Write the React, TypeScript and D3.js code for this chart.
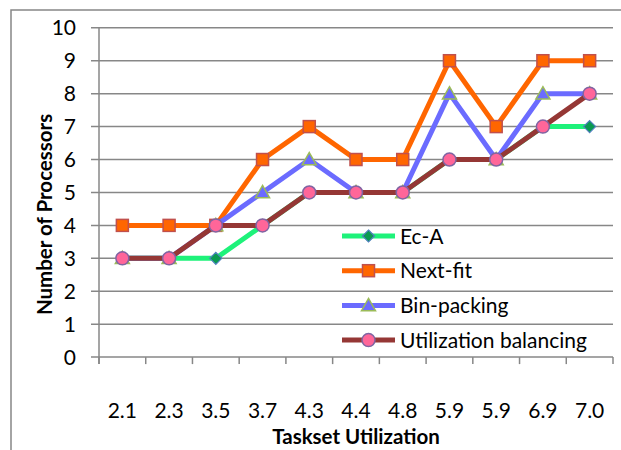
import React from "react";
import * as d3 from "d3";

const categories = ["2.1", "2.3", "3.5", "3.7", "4.3", "4.4", "4.8", "5.9", "5.9", "6.9", "7.0"];
const ecA = [3, 3, 3, 4, 5, 5, 5, 6, 6, 7, 7];
const nextFit = [4, 4, 4, 6, 7, 6, 6, 9, 7, 9, 9];
const binPacking = [3, 3, 4, 5, 6, 5, 5, 8, 6, 8, 8];
const utilBalancing = [3, 3, 4, 4, 5, 5, 5, 6, 6, 7, 8];
const yTicks = [0, 1, 2, 3, 4, 5, 6, 7, 8, 9, 10];
const seriesNames = ["Ec-A", "Next-fit", "Bin-packing", "Utilization balancing"];

const FONT = "Lato, 'Open Sans', sans-serif";

type Series = {
  name: string;
  values: number[];
  line: string;
  fill: string;
  stroke: string;
  marker: "diamond" | "square" | "triangle" | "circle";
};

const series: Series[] = [
  { name: seriesNames[0], values: ecA, line: "#1ef27a", fill: "#0a9a50", stroke: "#4f81bd", marker: "diamond" },
  { name: seriesNames[1], values: nextFit, line: "#ff6600", fill: "#ff6600", stroke: "#c0504d", marker: "square" },
  { name: seriesNames[2], values: binPacking, line: "#6b6bff", fill: "#6b6bff", stroke: "#9bbb59", marker: "triangle" },
  { name: seriesNames[3], values: utilBalancing, line: "#953735", fill: "#ff6699", stroke: "#8064a2", marker: "circle" },
];

function Marker({ type, x, y, fill, stroke }: { type: Series["marker"]; x: number; y: number; fill: string; stroke: string }) {
  if (type === "square") {
    return <rect x={x - 6} y={y - 6} width={12} height={12} fill={fill} stroke={stroke} strokeWidth={1.5} />;
  }
  if (type === "diamond") {
    const s = 6;
    return <path d={`M${x},${y - s}L${x + s},${y}L${x},${y + s}L${x - s},${y}Z`} fill={fill} stroke={stroke} strokeWidth={1.2} />;
  }
  if (type === "triangle") {
    const s = 7;
    return <path d={`M${x},${y - s}L${x + s},${y + s * 0.75}L${x - s},${y + s * 0.75}Z`} fill={fill} stroke={stroke} strokeWidth={1.5} />;
  }
  return <circle cx={x} cy={y} r={6.5} fill={fill} stroke={stroke} strokeWidth={1.5} />;
}

export default function App() {
  const W = 621;
  const H = 450;
  const left = 99;
  const right = 613;
  const top = 27.8;
  const bottom = 357.1;

  const x = d3.scaleBand<number>().domain(categories.map((_, i) => i)).range([left, right]);
  const y = d3.scaleLinear().domain([0, 10]).range([bottom, top]);
  const cx = (i: number) => (x(i) as number) + x.bandwidth() / 2;

  const line = d3
    .line<number>()
    .x((_, i) => cx(i))
    .y((d) => y(d));

  const legendX = 342;
  const legendY0 = 236;
  const legendStep = 34.7;

  const tickXs = categories.map((_, i) => x(i) as number).concat([right]);

  return (
    <svg width={W} height={H} style={{ position: "absolute", left: 0, top: 0 }} fontFamily={FONT}>
      <rect x={0} y={0} width={W} height={H} fill="#fff" />
      <rect x={11} y={10} width={W + 10} height={H + 10} fill="none" stroke="#878787" strokeWidth={1.5} />
      {yTicks.map((t) => (
        <g key={t}>
          <line x1={left - 8} x2={right} y1={y(t)} y2={y(t)} stroke="#878787" strokeWidth={1.5} />
          <text x={76} y={y(t)} dy="0.36em" textAnchor="end" fontSize={21} fill="#000">
            {t}
          </text>
        </g>
      ))}
      <line x1={left} x2={left} y1={top} y2={bottom + 7} stroke="#878787" strokeWidth={1.5} />
      {tickXs.map((tx, i) => (
        <line key={i} x1={tx} x2={tx} y1={bottom} y2={bottom + 7} stroke="#878787" strokeWidth={1.5} />
      ))}
      {categories.map((c, i) => (
        <text key={i} x={cx(i)} y={418} textAnchor="middle" fontSize={21} fill="#000">
          {c}
        </text>
      ))}
      <text x={(left + right) / 2} y={444} textAnchor="middle" fontSize={20.5} fontWeight="bold" fill="#000">
        Taskset Utilization
      </text>
      <text
        transform={`translate(52, ${(top + bottom) / 2 + 22}) rotate(-90)`}
        textAnchor="middle"
        fontSize={20.5}
        fontWeight="bold"
        fill="#000"
      >
        Number of Processors
      </text>

      {series.map((s) => (
        <g key={s.name}>
          <path d={line(s.values) || ""} fill="none" stroke={s.line} strokeWidth={5} strokeLinejoin="round" />
          {s.values.map((v, i) => (
            <Marker key={i} type={s.marker} x={cx(i)} y={y(v)} fill={s.fill} stroke={s.stroke} />
          ))}
        </g>
      ))}

      {series.map((s, k) => {
        const ly = legendY0 + k * legendStep;
        return (
          <g key={s.name}>
            <line x1={legendX} x2={legendX + 53} y1={ly} y2={ly} stroke={s.line} strokeWidth={5} />
            <Marker type={s.marker} x={legendX + 26.5} y={ly} fill={s.fill} stroke={s.stroke} />
            <text x={legendX + 58} y={ly} dy="0.36em" fontSize={21} fill="#000">
              {s.name}
            </text>
          </g>
        );
      })}
    </svg>
  );
}
